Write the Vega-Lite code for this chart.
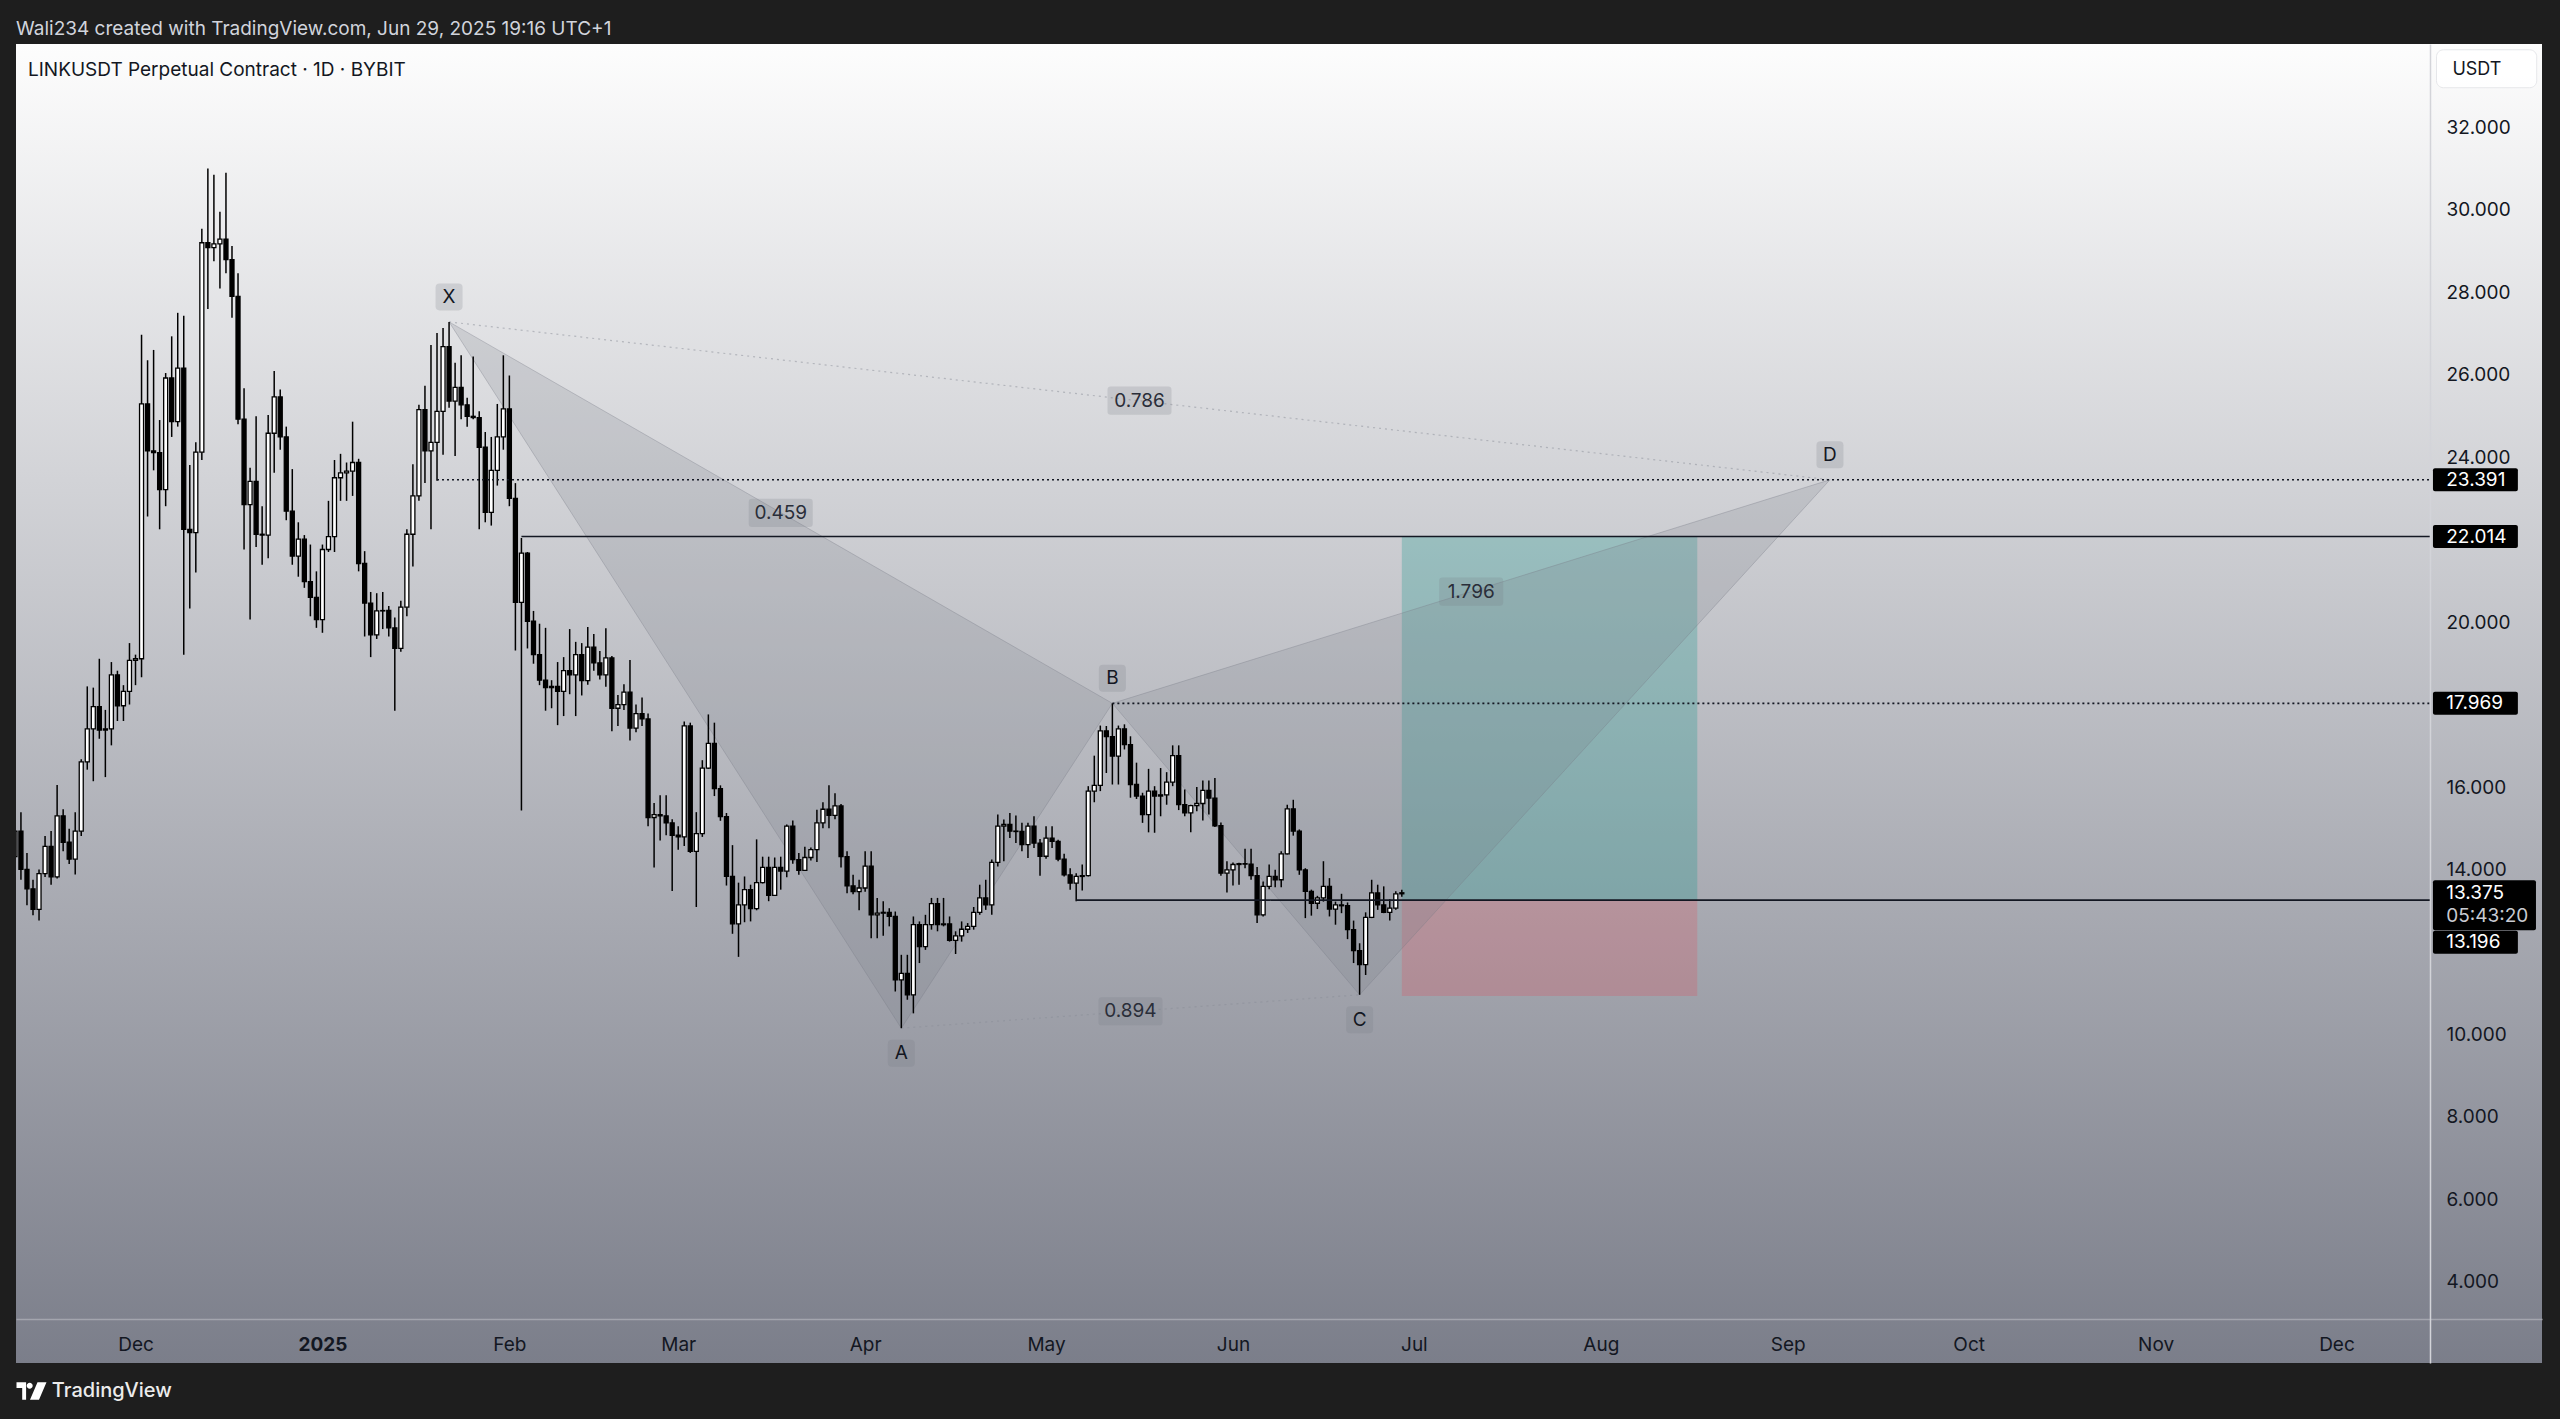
{
  "$schema": "https://vega.github.io/schema/vega-lite/v6.json",
  "width": 2526,
  "height": 1319,
  "autosize": {"type": "none"},
  "padding": {"left": 16, "top": 44, "right": 18, "bottom": 56},
  "background": "#1e1e1e",
  "config": {"view": {"stroke": null}, "font": "Inter", "text": {"font": "Inter"}, "scale": {"continuousPadding": 0}, "axis": {"grid": false}},
  "title": {"text": "Wali234 created with TradingView.com, Jun 29, 2025 19:16 UTC+1", "anchor": "start", "frame": "group", "offset": 5, "fontSize": 19, "fontWeight": "normal", "color": "#d1d4dc", "font": "Inter"},
  "datasets": {
    "k": [
      {"d":"2024-11-11","o":14.25,"h":15.30,"l":13.60,"c":14.87},
      {"d":"2024-11-12","o":14.87,"h":15.33,"l":13.69,"c":13.94},
      {"d":"2024-11-13","o":13.94,"h":14.34,"l":13.07,"c":13.47},
      {"d":"2024-11-14","o":13.47,"h":13.69,"l":12.83,"c":12.97},
      {"d":"2024-11-15","o":12.97,"h":13.94,"l":12.70,"c":13.84},
      {"d":"2024-11-16","o":13.84,"h":14.75,"l":13.76,"c":14.50},
      {"d":"2024-11-17","o":14.50,"h":14.87,"l":13.57,"c":13.76},
      {"d":"2024-11-18","o":13.76,"h":15.99,"l":13.72,"c":15.24},
      {"d":"2024-11-19","o":15.24,"h":15.40,"l":14.38,"c":14.60},
      {"d":"2024-11-20","o":14.60,"h":14.93,"l":14.07,"c":14.19},
      {"d":"2024-11-21","o":14.19,"h":15.33,"l":13.82,"c":14.87},
      {"d":"2024-11-22","o":14.87,"h":16.61,"l":14.75,"c":16.55},
      {"d":"2024-11-23","o":16.55,"h":18.38,"l":16.36,"c":17.35},
      {"d":"2024-11-24","o":17.35,"h":18.35,"l":16.08,"c":17.89},
      {"d":"2024-11-25","o":17.89,"h":19.05,"l":17.11,"c":17.32},
      {"d":"2024-11-26","o":17.32,"h":17.81,"l":16.18,"c":17.35},
      {"d":"2024-11-27","o":17.35,"h":18.97,"l":16.95,"c":18.66},
      {"d":"2024-11-28","o":18.66,"h":18.76,"l":17.54,"c":17.91},
      {"d":"2024-11-29","o":17.91,"h":18.41,"l":17.54,"c":18.26},
      {"d":"2024-11-30","o":18.26,"h":19.43,"l":17.94,"c":19.01},
      {"d":"2024-12-01","o":19.01,"h":19.15,"l":18.41,"c":19.05},
      {"d":"2024-12-02","o":19.05,"h":26.91,"l":18.60,"c":25.23},
      {"d":"2024-12-03","o":25.23,"h":26.29,"l":22.50,"c":24.09},
      {"d":"2024-12-04","o":24.09,"h":26.54,"l":23.62,"c":24.05},
      {"d":"2024-12-05","o":24.05,"h":24.84,"l":22.19,"c":23.15},
      {"d":"2024-12-06","o":23.15,"h":25.98,"l":22.75,"c":25.86},
      {"d":"2024-12-07","o":25.86,"h":26.87,"l":24.43,"c":24.80},
      {"d":"2024-12-08","o":24.80,"h":27.44,"l":24.68,"c":26.10},
      {"d":"2024-12-09","o":26.10,"h":27.37,"l":19.15,"c":22.19},
      {"d":"2024-12-10","o":22.19,"h":23.75,"l":20.27,"c":22.11},
      {"d":"2024-12-11","o":22.11,"h":24.30,"l":21.14,"c":24.06},
      {"d":"2024-12-12","o":24.06,"h":29.48,"l":23.87,"c":29.14},
      {"d":"2024-12-13","o":29.14,"h":30.94,"l":27.53,"c":29.02},
      {"d":"2024-12-14","o":29.02,"h":30.79,"l":28.69,"c":29.11},
      {"d":"2024-12-15","o":29.11,"h":29.89,"l":28.03,"c":29.23},
      {"d":"2024-12-16","o":29.23,"h":30.84,"l":28.40,"c":28.73},
      {"d":"2024-12-17","o":28.73,"h":29.06,"l":27.32,"c":27.84},
      {"d":"2024-12-18","o":27.84,"h":28.40,"l":24.74,"c":24.86},
      {"d":"2024-12-19","o":24.86,"h":25.61,"l":21.70,"c":22.79},
      {"d":"2024-12-20","o":22.79,"h":23.68,"l":20.00,"c":23.35},
      {"d":"2024-12-21","o":23.35,"h":24.93,"l":21.76,"c":22.07},
      {"d":"2024-12-22","o":22.07,"h":22.75,"l":21.33,"c":22.05},
      {"d":"2024-12-23","o":22.05,"h":24.96,"l":21.49,"c":24.52},
      {"d":"2024-12-24","o":24.52,"h":26.03,"l":23.56,"c":25.40},
      {"d":"2024-12-25","o":25.40,"h":25.58,"l":24.12,"c":24.43},
      {"d":"2024-12-26","o":24.43,"h":24.68,"l":22.41,"c":22.63},
      {"d":"2024-12-27","o":22.63,"h":23.65,"l":21.33,"c":21.54},
      {"d":"2024-12-28","o":21.54,"h":22.36,"l":21.04,"c":21.95},
      {"d":"2024-12-29","o":21.95,"h":22.05,"l":20.77,"c":20.92},
      {"d":"2024-12-30","o":20.92,"h":21.82,"l":20.08,"c":20.54},
      {"d":"2024-12-31","o":20.54,"h":21.17,"l":19.80,"c":20.00},
      {"d":"2025-01-01","o":20.00,"h":21.82,"l":19.68,"c":21.70},
      {"d":"2025-01-02","o":21.70,"h":22.88,"l":21.64,"c":22.01},
      {"d":"2025-01-03","o":22.01,"h":23.87,"l":21.64,"c":23.44},
      {"d":"2025-01-04","o":23.44,"h":24.02,"l":22.88,"c":23.56},
      {"d":"2025-01-05","o":23.56,"h":23.81,"l":22.88,"c":23.60},
      {"d":"2025-01-06","o":23.60,"h":24.80,"l":23.00,"c":23.81},
      {"d":"2025-01-07","o":23.81,"h":23.90,"l":21.17,"c":21.36},
      {"d":"2025-01-08","o":21.36,"h":21.66,"l":19.59,"c":20.40},
      {"d":"2025-01-09","o":20.40,"h":20.67,"l":19.09,"c":19.63},
      {"d":"2025-01-10","o":19.63,"h":20.64,"l":19.53,"c":20.21},
      {"d":"2025-01-11","o":20.21,"h":20.67,"l":19.77,"c":20.22},
      {"d":"2025-01-12","o":20.22,"h":20.33,"l":19.59,"c":19.80},
      {"d":"2025-01-13","o":19.80,"h":20.05,"l":17.79,"c":19.30},
      {"d":"2025-01-14","o":19.30,"h":20.46,"l":19.22,"c":20.30},
      {"d":"2025-01-15","o":20.30,"h":22.19,"l":20.08,"c":22.07},
      {"d":"2025-01-16","o":22.07,"h":23.77,"l":21.29,"c":23.00},
      {"d":"2025-01-17","o":23.00,"h":25.21,"l":22.88,"c":25.09},
      {"d":"2025-01-18","o":25.09,"h":25.67,"l":23.31,"c":24.09},
      {"d":"2025-01-19","o":24.09,"h":26.66,"l":22.19,"c":24.30},
      {"d":"2025-01-20","o":24.30,"h":26.95,"l":23.37,"c":25.05},
      {"d":"2025-01-21","o":25.05,"h":27.07,"l":24.00,"c":26.62},
      {"d":"2025-01-22","o":26.62,"h":27.22,"l":25.14,"c":25.30},
      {"d":"2025-01-23","o":25.30,"h":26.23,"l":23.97,"c":25.63},
      {"d":"2025-01-24","o":25.63,"h":26.41,"l":24.86,"c":25.21},
      {"d":"2025-01-25","o":25.21,"h":25.38,"l":24.68,"c":24.93},
      {"d":"2025-01-26","o":24.93,"h":26.38,"l":24.86,"c":24.90},
      {"d":"2025-01-27","o":24.90,"h":25.05,"l":22.19,"c":24.18},
      {"d":"2025-01-28","o":24.18,"h":24.55,"l":22.36,"c":22.60},
      {"d":"2025-01-29","o":22.60,"h":24.43,"l":22.28,"c":23.62},
      {"d":"2025-01-30","o":23.62,"h":25.23,"l":23.25,"c":24.43},
      {"d":"2025-01-31","o":24.43,"h":26.41,"l":24.12,"c":25.11},
      {"d":"2025-02-01","o":25.11,"h":25.92,"l":22.75,"c":22.94},
      {"d":"2025-02-02","o":22.94,"h":23.31,"l":19.25,"c":20.42},
      {"d":"2025-02-03","o":20.42,"h":21.98,"l":15.37,"c":21.61},
      {"d":"2025-02-04","o":21.61,"h":21.64,"l":19.30,"c":19.96},
      {"d":"2025-02-05","o":19.96,"h":20.21,"l":18.93,"c":19.15},
      {"d":"2025-02-06","o":19.15,"h":19.90,"l":18.41,"c":18.53},
      {"d":"2025-02-07","o":18.53,"h":19.80,"l":17.79,"c":18.35},
      {"d":"2025-02-08","o":18.35,"h":18.53,"l":17.85,"c":18.38},
      {"d":"2025-02-09","o":18.38,"h":18.97,"l":17.44,"c":18.26},
      {"d":"2025-02-10","o":18.26,"h":19.09,"l":17.66,"c":18.76},
      {"d":"2025-02-11","o":18.76,"h":19.77,"l":18.19,"c":18.66},
      {"d":"2025-02-12","o":18.66,"h":19.46,"l":17.66,"c":19.15},
      {"d":"2025-02-13","o":19.15,"h":19.43,"l":18.16,"c":18.52},
      {"d":"2025-02-14","o":18.52,"h":19.82,"l":18.42,"c":19.33},
      {"d":"2025-02-15","o":19.33,"h":19.65,"l":18.76,"c":18.95},
      {"d":"2025-02-16","o":18.95,"h":19.24,"l":18.55,"c":18.66},
      {"d":"2025-02-17","o":18.66,"h":19.79,"l":18.37,"c":19.07},
      {"d":"2025-02-18","o":19.07,"h":19.12,"l":17.29,"c":17.85},
      {"d":"2025-02-19","o":17.85,"h":18.17,"l":17.42,"c":17.94},
      {"d":"2025-02-20","o":17.94,"h":18.43,"l":17.81,"c":18.24},
      {"d":"2025-02-21","o":18.24,"h":19.02,"l":17.07,"c":17.37},
      {"d":"2025-02-22","o":17.37,"h":17.94,"l":17.27,"c":17.72},
      {"d":"2025-02-23","o":17.72,"h":18.11,"l":17.42,"c":17.59},
      {"d":"2025-02-24","o":17.59,"h":17.72,"l":14.99,"c":15.20},
      {"d":"2025-02-25","o":15.20,"h":15.55,"l":13.99,"c":15.27},
      {"d":"2025-02-26","o":15.27,"h":15.74,"l":14.64,"c":15.24},
      {"d":"2025-02-27","o":15.24,"h":15.74,"l":14.77,"c":15.07},
      {"d":"2025-02-28","o":15.07,"h":15.16,"l":13.42,"c":14.77},
      {"d":"2025-03-01","o":14.77,"h":14.99,"l":14.42,"c":14.73},
      {"d":"2025-03-02","o":14.73,"h":17.53,"l":14.51,"c":17.42},
      {"d":"2025-03-03","o":17.42,"h":17.50,"l":14.34,"c":14.38},
      {"d":"2025-03-04","o":14.38,"h":15.33,"l":13.03,"c":14.81},
      {"d":"2025-03-05","o":14.81,"h":16.59,"l":14.73,"c":16.40},
      {"d":"2025-03-06","o":16.40,"h":17.70,"l":16.38,"c":17.00},
      {"d":"2025-03-07","o":17.00,"h":17.50,"l":15.72,"c":15.90},
      {"d":"2025-03-08","o":15.90,"h":15.98,"l":15.12,"c":15.22},
      {"d":"2025-03-09","o":15.22,"h":15.31,"l":13.55,"c":13.77},
      {"d":"2025-03-10","o":13.77,"h":14.53,"l":12.38,"c":12.62},
      {"d":"2025-03-11","o":12.62,"h":13.62,"l":11.82,"c":13.08},
      {"d":"2025-03-12","o":13.08,"h":13.77,"l":12.66,"c":13.45},
      {"d":"2025-03-13","o":13.45,"h":13.57,"l":12.68,"c":12.99},
      {"d":"2025-03-14","o":12.99,"h":14.67,"l":12.95,"c":13.62},
      {"d":"2025-03-15","o":13.62,"h":14.25,"l":13.60,"c":13.99},
      {"d":"2025-03-16","o":13.99,"h":14.25,"l":13.17,"c":13.31},
      {"d":"2025-03-17","o":13.31,"h":14.23,"l":13.30,"c":13.99},
      {"d":"2025-03-18","o":13.99,"h":14.25,"l":13.45,"c":13.90},
      {"d":"2025-03-19","o":13.90,"h":15.03,"l":13.75,"c":14.99},
      {"d":"2025-03-20","o":14.99,"h":15.13,"l":14.08,"c":14.18},
      {"d":"2025-03-21","o":14.18,"h":14.34,"l":13.81,"c":13.92},
      {"d":"2025-03-22","o":13.92,"h":14.49,"l":13.90,"c":14.23},
      {"d":"2025-03-23","o":14.23,"h":14.47,"l":14.16,"c":14.42},
      {"d":"2025-03-24","o":14.42,"h":15.39,"l":14.12,"c":15.07},
      {"d":"2025-03-25","o":15.07,"h":15.57,"l":14.94,"c":15.40},
      {"d":"2025-03-26","o":15.40,"h":15.98,"l":14.94,"c":15.25},
      {"d":"2025-03-27","o":15.25,"h":15.79,"l":15.16,"c":15.48},
      {"d":"2025-03-28","o":15.48,"h":15.53,"l":13.99,"c":14.25},
      {"d":"2025-03-29","o":14.25,"h":14.38,"l":13.36,"c":13.54},
      {"d":"2025-03-30","o":13.54,"h":13.81,"l":13.34,"c":13.40},
      {"d":"2025-03-31","o":13.40,"h":13.69,"l":12.95,"c":13.49},
      {"d":"2025-04-01","o":13.49,"h":14.38,"l":13.40,"c":14.02},
      {"d":"2025-04-02","o":14.02,"h":14.38,"l":12.27,"c":12.84},
      {"d":"2025-04-03","o":12.84,"h":13.25,"l":12.27,"c":12.88},
      {"d":"2025-04-04","o":12.88,"h":13.17,"l":12.33,"c":12.90},
      {"d":"2025-04-05","o":12.90,"h":13.00,"l":12.56,"c":12.80},
      {"d":"2025-04-06","o":12.80,"h":12.92,"l":10.98,"c":11.26},
      {"d":"2025-04-07","o":11.26,"h":11.87,"l":10.09,"c":11.42},
      {"d":"2025-04-08","o":11.42,"h":11.87,"l":10.78,"c":10.90},
      {"d":"2025-04-09","o":10.90,"h":12.80,"l":10.45,"c":12.60},
      {"d":"2025-04-10","o":12.60,"h":12.68,"l":11.67,"c":12.07},
      {"d":"2025-04-11","o":12.07,"h":12.84,"l":11.99,"c":12.60},
      {"d":"2025-04-12","o":12.60,"h":13.25,"l":12.48,"c":13.11},
      {"d":"2025-04-13","o":13.11,"h":13.25,"l":12.44,"c":12.60},
      {"d":"2025-04-14","o":12.60,"h":13.25,"l":12.56,"c":12.62},
      {"d":"2025-04-15","o":12.62,"h":12.80,"l":12.19,"c":12.22},
      {"d":"2025-04-16","o":12.22,"h":12.44,"l":11.89,"c":12.33},
      {"d":"2025-04-17","o":12.33,"h":12.68,"l":12.19,"c":12.49},
      {"d":"2025-04-18","o":12.49,"h":12.64,"l":12.40,"c":12.56},
      {"d":"2025-04-19","o":12.56,"h":13.03,"l":12.48,"c":12.90},
      {"d":"2025-04-20","o":12.90,"h":13.57,"l":12.84,"c":13.25},
      {"d":"2025-04-21","o":13.25,"h":13.69,"l":12.96,"c":13.08},
      {"d":"2025-04-22","o":13.08,"h":14.18,"l":12.84,"c":14.11},
      {"d":"2025-04-23","o":14.11,"h":15.27,"l":14.01,"c":14.99},
      {"d":"2025-04-24","o":14.99,"h":15.15,"l":14.14,"c":15.03},
      {"d":"2025-04-25","o":15.03,"h":15.31,"l":14.70,"c":14.87},
      {"d":"2025-04-26","o":14.87,"h":15.25,"l":14.58,"c":14.86},
      {"d":"2025-04-27","o":14.86,"h":15.07,"l":14.38,"c":14.54},
      {"d":"2025-04-28","o":14.54,"h":15.07,"l":14.22,"c":14.99},
      {"d":"2025-04-29","o":14.99,"h":15.23,"l":14.46,"c":14.58},
      {"d":"2025-04-30","o":14.58,"h":14.68,"l":13.79,"c":14.26},
      {"d":"2025-05-01","o":14.26,"h":14.99,"l":14.20,"c":14.70},
      {"d":"2025-05-02","o":14.70,"h":14.99,"l":14.46,"c":14.62},
      {"d":"2025-05-03","o":14.62,"h":14.66,"l":14.14,"c":14.19},
      {"d":"2025-05-04","o":14.19,"h":14.32,"l":13.77,"c":13.81},
      {"d":"2025-05-05","o":13.81,"h":13.97,"l":13.45,"c":13.61},
      {"d":"2025-05-06","o":13.61,"h":13.85,"l":13.17,"c":13.77},
      {"d":"2025-05-07","o":13.77,"h":14.06,"l":13.43,"c":13.79},
      {"d":"2025-05-08","o":13.79,"h":15.96,"l":13.77,"c":15.84},
      {"d":"2025-05-09","o":15.84,"h":16.70,"l":15.57,"c":15.98},
      {"d":"2025-05-10","o":15.98,"h":17.43,"l":15.84,"c":17.30},
      {"d":"2025-05-11","o":17.30,"h":17.42,"l":16.28,"c":17.16},
      {"d":"2025-05-12","o":17.16,"h":17.97,"l":16.00,"c":16.69},
      {"d":"2025-05-13","o":16.69,"h":17.43,"l":16.00,"c":17.35},
      {"d":"2025-05-14","o":17.35,"h":17.46,"l":16.85,"c":16.97},
      {"d":"2025-05-15","o":16.97,"h":17.17,"l":15.68,"c":16.00},
      {"d":"2025-05-16","o":16.00,"h":16.53,"l":15.65,"c":15.72},
      {"d":"2025-05-17","o":15.72,"h":15.80,"l":15.07,"c":15.27},
      {"d":"2025-05-18","o":15.27,"h":16.38,"l":14.84,"c":15.84},
      {"d":"2025-05-19","o":15.84,"h":15.96,"l":14.83,"c":15.72},
      {"d":"2025-05-20","o":15.72,"h":16.40,"l":15.23,"c":15.75},
      {"d":"2025-05-21","o":15.75,"h":16.30,"l":15.51,"c":16.06},
      {"d":"2025-05-22","o":16.06,"h":16.95,"l":15.96,"c":16.70},
      {"d":"2025-05-23","o":16.70,"h":16.95,"l":15.38,"c":15.51},
      {"d":"2025-05-24","o":15.51,"h":15.88,"l":15.23,"c":15.31},
      {"d":"2025-05-25","o":15.31,"h":15.51,"l":14.84,"c":15.49},
      {"d":"2025-05-26","o":15.49,"h":15.94,"l":15.35,"c":15.54},
      {"d":"2025-05-27","o":15.54,"h":16.10,"l":15.13,"c":15.86},
      {"d":"2025-05-28","o":15.86,"h":16.10,"l":15.27,"c":15.67},
      {"d":"2025-05-29","o":15.67,"h":16.16,"l":14.97,"c":15.00},
      {"d":"2025-05-30","o":15.00,"h":15.08,"l":13.79,"c":13.85},
      {"d":"2025-05-31","o":13.85,"h":14.14,"l":13.38,"c":13.93},
      {"d":"2025-06-01","o":13.93,"h":14.11,"l":13.55,"c":14.06},
      {"d":"2025-06-02","o":14.06,"h":14.10,"l":13.57,"c":14.08},
      {"d":"2025-06-03","o":14.08,"h":14.44,"l":13.97,"c":14.07},
      {"d":"2025-06-04","o":14.07,"h":14.44,"l":13.69,"c":13.79},
      {"d":"2025-06-05","o":13.79,"h":14.00,"l":12.64,"c":12.84},
      {"d":"2025-06-06","o":12.84,"h":13.65,"l":12.80,"c":13.53},
      {"d":"2025-06-07","o":13.53,"h":14.06,"l":13.46,"c":13.77},
      {"d":"2025-06-08","o":13.77,"h":13.93,"l":13.51,"c":13.69},
      {"d":"2025-06-09","o":13.69,"h":14.38,"l":13.51,"c":14.32},
      {"d":"2025-06-10","o":14.32,"h":15.51,"l":14.30,"c":15.41},
      {"d":"2025-06-11","o":15.41,"h":15.63,"l":14.76,"c":14.87},
      {"d":"2025-06-12","o":14.87,"h":14.91,"l":13.81,"c":13.93},
      {"d":"2025-06-13","o":13.93,"h":13.97,"l":12.76,"c":13.41},
      {"d":"2025-06-14","o":13.41,"h":13.45,"l":12.82,"c":13.12},
      {"d":"2025-06-15","o":13.12,"h":13.30,"l":12.98,"c":13.25},
      {"d":"2025-06-16","o":13.25,"h":14.14,"l":13.16,"c":13.53},
      {"d":"2025-06-17","o":13.53,"h":13.73,"l":12.80,"c":12.98},
      {"d":"2025-06-18","o":12.98,"h":13.16,"l":12.60,"c":13.08},
      {"d":"2025-06-19","o":13.08,"h":13.35,"l":12.88,"c":13.06},
      {"d":"2025-06-20","o":13.06,"h":13.14,"l":12.25,"c":12.48},
      {"d":"2025-06-21","o":12.48,"h":12.70,"l":11.67,"c":11.97},
      {"d":"2025-06-22","o":11.97,"h":12.15,"l":10.90,"c":11.63},
      {"d":"2025-06-23","o":11.63,"h":12.90,"l":11.38,"c":12.78},
      {"d":"2025-06-24","o":12.78,"h":13.69,"l":12.76,"c":13.37},
      {"d":"2025-06-25","o":13.37,"h":13.57,"l":12.96,"c":13.08},
      {"d":"2025-06-26","o":13.08,"h":13.53,"l":12.88,"c":12.90},
      {"d":"2025-06-27","o":12.90,"h":13.22,"l":12.70,"c":13.00},
      {"d":"2025-06-28","o":13.00,"h":13.41,"l":12.96,"c":13.35},
      {"d":"2025-06-29","o":13.35,"h":13.45,"l":13.28,"c":13.375}
    ],
    "lv": [
      {"p":23.391,"s":"2025-01-20","t":"dot"},
      {"p":22.014,"s":"2025-02-03","t":"solid"},
      {"p":17.969,"s":"2025-05-12","t":"dot"},
      {"p":13.196,"s":"2025-05-06","t":"solid"}
    ],
    "pts": [
      {"n":"X","d":"2025-01-22","p":27.22},
      {"n":"A","d":"2025-04-07","p":10.09},
      {"n":"B","d":"2025-05-12","p":17.969},
      {"n":"C","d":"2025-06-22","p":10.90},
      {"n":"D","d":"2025-09-08","p":23.391}
    ],
    "tri": [
      {"g":"XAB","i":0,"d":"2025-01-22","p":27.22},
      {"g":"XAB","i":1,"d":"2025-04-07","p":10.09},
      {"g":"XAB","i":2,"d":"2025-05-12","p":17.969},
      {"g":"BCD","i":0,"d":"2025-05-12","p":17.969},
      {"g":"BCD","i":1,"d":"2025-06-22","p":10.90},
      {"g":"BCD","i":2,"d":"2025-09-08","p":23.391}
    ],
    "diag": [
      {"d1":"2025-01-22","p1":27.22,"d2":"2025-09-08","p2":23.391},
      {"d1":"2025-04-07","p1":10.09,"d2":"2025-06-22","p2":10.90}
    ],
    "ratios": [
      {"t":"0.786","d":"2025-05-16T12:00:00Z","p":25.31},
      {"t":"0.459","d":"2025-03-18T00:00:00Z","p":22.59},
      {"t":"0.894","d":"2025-05-15T00:00:00Z","p":10.50},
      {"t":"1.796","d":"2025-07-10T12:00:00Z","p":20.68}
    ],
    "boxes": [
      {"k":"target","s":"2025-06-29","e":"2025-08-17","top":22.014,"bot":13.196},
      {"k":"stop","s":"2025-06-29","e":"2025-08-17","top":13.196,"bot":10.87}
    ],
    "tags": [{"v":23.391},{"v":22.014},{"v":17.969}]
  },
  "layer": [
    {
      "data": {"values": [{}]},
      "mark": {"type": "rect", "fill": {"gradient": "linear", "x1": 0, "y1": 0, "x2": 0, "y2": 1, "stops": [{"offset": 0, "color": "#fdfdfd"}, {"offset": 1, "color": "#7b7e8a"}]}},
      "encoding": {
        "x": {"datum": {"year": 2024, "month": 11, "date": 11, "hours": 4, "minutes": 20, "utc": true}, "type": "temporal"},
        "x2": {"datum": {"year": 2026, "month": 1, "date": 4, "hours": 2, "utc": true}},
        "y": {"datum": 1.97, "type": "quantitative"},
        "y2": {"datum": 33.96}
      }
    },
    {
      "data": {"name": "boxes"},
      "mark": {"type": "rect"},
      "encoding": {
        "x": {"field": "s", "type": "temporal"},
        "x2": {"field": "e"},
        "y": {"field": "top", "type": "quantitative"},
        "y2": {"field": "bot"},
        "color": {"field": "k", "type": "nominal", "scale": {"domain": ["target", "stop"], "range": ["rgba(20,150,140,0.28)", "rgba(242,54,69,0.2)"]}, "legend": null}
      }
    },
    {
      "data": {"name": "tri"},
      "mark": {"type": "line", "interpolate": "linear-closed", "fill": "#787b86", "fillOpacity": 0.2, "stroke": "#787b86", "strokeOpacity": 0.35, "strokeWidth": 1},
      "encoding": {
        "x": {"field": "d", "type": "temporal"},
        "y": {"field": "p", "type": "quantitative"},
        "detail": {"field": "g"},
        "order": {"field": "i", "type": "quantitative"}
      }
    },
    {
      "data": {"name": "diag"},
      "mark": {"type": "rule", "stroke": "#8a8d97", "strokeOpacity": 0.5, "strokeWidth": 1.2, "strokeDash": [2, 4]},
      "encoding": {
        "x": {"field": "d1", "type": "temporal"},
        "x2": {"field": "d2"},
        "y": {"field": "p1", "type": "quantitative"},
        "y2": {"field": "p2"}
      }
    },
    {
      "data": {"name": "k"},
      "mark": {"type": "rule", "color": "#000000", "strokeWidth": 1.5, "clip": true},
      "encoding": {
        "x": {"field": "d", "type": "temporal",
          "scale": {"type": "utc", "padding": 0, "domain": [{"year": 2024, "month": 11, "date": 11, "hours": 4, "minutes": 20, "utc": true}, {"year": 2026, "month": 1, "date": 4, "hours": 2, "utc": true}]},
          "axis": {"orient": "bottom", "offset": -44, "zindex": 2, "title": null, "grid": false, "ticks": false, "tickSize": 0,
            "values": [
              {"year": 2024, "month": 12, "date": 1, "utc": true},
              {"year": 2025, "month": 1, "date": 1, "utc": true},
              {"year": 2025, "month": 2, "date": 1, "utc": true},
              {"year": 2025, "month": 3, "date": 1, "utc": true},
              {"year": 2025, "month": 4, "date": 1, "utc": true},
              {"year": 2025, "month": 5, "date": 1, "utc": true},
              {"year": 2025, "month": 6, "date": 1, "utc": true},
              {"year": 2025, "month": 7, "date": 1, "utc": true},
              {"year": 2025, "month": 8, "date": 1, "utc": true},
              {"year": 2025, "month": 9, "date": 1, "utc": true},
              {"year": 2025, "month": 10, "date": 1, "utc": true},
              {"year": 2025, "month": 11, "date": 1, "utc": true},
              {"year": 2025, "month": 12, "date": 1, "utc": true}
            ],
            "labelExpr": "utcmonth(datum.value) == 0 ? utcFormat(datum.value, '%Y') : utcFormat(datum.value, '%b')",
            "labelFontWeight": {"condition": {"test": "utcmonth(datum.value) == 0", "value": "bold"}, "value": "normal"},
            "labelFont": "Inter", "labelFontSize": 19, "labelColor": "#131722", "labelPadding": 25, "labelBaseline": "middle",
            "labelFlush": false, "labelOverlap": false, "domainColor": "#a3a5ae", "domainWidth": 1.5}
        },
        "y": {"field": "l", "type": "quantitative",
          "scale": {"domain": [1.97, 33.96], "nice": false, "zero": false, "padding": 0},
          "axis": {"orient": "right", "offset": -112, "zindex": 2, "title": null, "grid": false, "ticks": false, "tickSize": 0,
            "values": [4, 6, 8, 10, 14, 16, 20, 24, 26, 28, 30, 32], "format": ".3f",
            "labelAlign": "left", "labelBaseline": "middle", "labelPadding": 16, "labelOffset": 2.5, "labelFont": "Inter", "labelFontSize": 19, "labelColor": "#131722",
            "labelFlush": false, "labelOverlap": false, "domainColor": "#d3d4d9", "domainWidth": 1.5}
        },
        "y2": {"field": "h"}
      }
    },
    {
      "data": {"name": "k"},
      "mark": {"type": "bar", "size": 4, "stroke": "#000000", "strokeWidth": 1.3, "clip": true},
      "encoding": {
        "x": {"field": "d", "type": "temporal"},
        "y": {"field": "o", "type": "quantitative"},
        "y2": {"field": "c"},
        "fill": {"condition": {"test": "datum.c >= datum.o", "value": "#ffffff"}, "value": "#000000"}
      }
    },
    {
      "data": {"name": "lv"},
      "mark": {"type": "rule", "color": "#131722", "strokeWidth": 1.6},
      "encoding": {
        "x": {"field": "s", "type": "temporal"},
        "x2": {"datum": {"year": 2025, "month": 12, "date": 16, "hours": 12, "utc": true}},
        "y": {"field": "p", "type": "quantitative"},
        "strokeDash": {"field": "t", "type": "nominal", "scale": {"domain": ["dot", "solid"], "range": [[2, 3], [1, 0]]}, "legend": null}
      }
    },
    {
      "data": {"name": "pts"},
      "transform": [{"filter": "indexof(['X','B','D'], datum.n) >= 0"}],
      "mark": {"type": "point", "filled": true, "fill": "#787b86", "opacity": 0.22, "strokeWidth": 0, "size": 729, "yOffset": -25,
        "shape": "M-0.7,-1 L0.7,-1 Q1,-1 1,-0.7 L1,0.7 Q1,1 0.7,1 L-0.7,1 Q-1,1 -1,0.7 L-1,-0.7 Q-1,-1 -0.7,-1 Z"},
      "encoding": {"x": {"field": "d", "type": "temporal"}, "y": {"field": "p", "type": "quantitative"}}
    },
    {
      "data": {"name": "pts"},
      "transform": [{"filter": "indexof(['A','C'], datum.n) >= 0"}],
      "mark": {"type": "point", "filled": true, "fill": "#787b86", "opacity": 0.22, "strokeWidth": 0, "size": 729, "yOffset": 25,
        "shape": "M-0.7,-1 L0.7,-1 Q1,-1 1,-0.7 L1,0.7 Q1,1 0.7,1 L-0.7,1 Q-1,1 -1,0.7 L-1,-0.7 Q-1,-1 -0.7,-1 Z"},
      "encoding": {"x": {"field": "d", "type": "temporal"}, "y": {"field": "p", "type": "quantitative"}}
    },
    {
      "data": {"name": "pts"},
      "transform": [{"filter": "indexof(['X','B','D'], datum.n) >= 0"}],
      "mark": {"type": "text", "fontSize": 19, "color": "#131722", "dy": -25, "baseline": "middle", "align": "center"},
      "encoding": {"x": {"field": "d", "type": "temporal"}, "y": {"field": "p", "type": "quantitative"}, "text": {"field": "n"}}
    },
    {
      "data": {"name": "pts"},
      "transform": [{"filter": "indexof(['A','C'], datum.n) >= 0"}],
      "mark": {"type": "text", "fontSize": 19, "color": "#131722", "dy": 25, "baseline": "middle", "align": "center"},
      "encoding": {"x": {"field": "d", "type": "temporal"}, "y": {"field": "p", "type": "quantitative"}, "text": {"field": "n"}}
    },
    {
      "data": {"name": "ratios"},
      "mark": {"type": "point", "filled": true, "fill": "#787b86", "opacity": 0.22, "strokeWidth": 0, "size": 4096,
        "shape": "M-0.9,-0.44 L0.9,-0.44 Q1,-0.44 1,-0.34 L1,0.34 Q1,0.44 0.9,0.44 L-0.9,0.44 Q-1,0.44 -1,0.34 L-1,-0.34 Q-1,-0.44 -0.9,-0.44 Z"},
      "encoding": {"x": {"field": "d", "type": "temporal"}, "y": {"field": "p", "type": "quantitative"}}
    },
    {
      "data": {"name": "ratios"},
      "mark": {"type": "text", "fontSize": 19, "color": "#2a2e39", "baseline": "middle", "align": "center"},
      "encoding": {"x": {"field": "d", "type": "temporal"}, "y": {"field": "p", "type": "quantitative"}, "text": {"field": "t"}}
    },
    {
      "data": {"name": "tags"},
      "mark": {"type": "bar", "orient": "horizontal", "size": 23, "color": "#000000", "cornerRadius": 2},
      "encoding": {
        "x": {"datum": {"year": 2025, "month": 12, "date": 17, "utc": true}, "type": "temporal"},
        "x2": {"datum": {"year": 2025, "month": 12, "date": 31, "hours": 2, "utc": true}},
        "y": {"field": "v", "type": "quantitative"}
      }
    },
    {
      "data": {"name": "tags"},
      "mark": {"type": "text", "fontSize": 19, "color": "#ffffff", "align": "left", "baseline": "middle"},
      "encoding": {
        "x": {"datum": {"year": 2025, "month": 12, "date": 19, "hours": 5, "utc": true}, "type": "temporal"},
        "y": {"field": "v", "type": "quantitative"},
        "text": {"field": "v", "format": ".3f"}
      }
    },
    {
      "data": {"values": [{"v": 13.375, "t": "13.375", "cd": "05:43:20"}]},
      "layer": [
        {
          "mark": {"type": "bar", "orient": "horizontal", "size": 50, "yOffset": 12.5, "color": "#000000", "cornerRadius": 2},
          "encoding": {
            "x": {"datum": {"year": 2025, "month": 12, "date": 17, "utc": true}, "type": "temporal"},
            "x2": {"datum": {"year": 2026, "month": 1, "date": 3, "hours": 2, "utc": true}},
            "y": {"field": "v", "type": "quantitative"}
          }
        },
        {
          "mark": {"type": "text", "fontSize": 19, "color": "#ffffff", "align": "left", "baseline": "middle"},
          "encoding": {
            "x": {"datum": {"year": 2025, "month": 12, "date": 19, "hours": 5, "utc": true}, "type": "temporal"},
            "y": {"field": "v", "type": "quantitative"},
            "text": {"field": "t"}
          }
        },
        {
          "mark": {"type": "text", "fontSize": 19, "color": "#c9cbd2", "align": "left", "baseline": "middle", "dy": 23},
          "encoding": {
            "x": {"datum": {"year": 2025, "month": 12, "date": 19, "hours": 5, "utc": true}, "type": "temporal"},
            "y": {"field": "v", "type": "quantitative"},
            "text": {"field": "cd"}
          }
        }
      ]
    },
    {
      "data": {"values": [{"v": 13.196, "t": "13.196"}]},
      "layer": [
        {
          "mark": {"type": "bar", "orient": "horizontal", "size": 23, "yOffset": 42, "color": "#000000", "cornerRadius": 2},
          "encoding": {
            "x": {"datum": {"year": 2025, "month": 12, "date": 17, "utc": true}, "type": "temporal"},
            "x2": {"datum": {"year": 2025, "month": 12, "date": 31, "hours": 2, "utc": true}},
            "y": {"field": "v", "type": "quantitative"}
          }
        },
        {
          "mark": {"type": "text", "fontSize": 19, "color": "#ffffff", "align": "left", "baseline": "middle", "dy": 42},
          "encoding": {
            "x": {"datum": {"year": 2025, "month": 12, "date": 19, "hours": 5, "utc": true}, "type": "temporal"},
            "y": {"field": "v", "type": "quantitative"},
            "text": {"field": "t"}
          }
        }
      ]
    },
    {
      "data": {"values": [{"t": "USDT"}]},
      "layer": [
        {
          "mark": {"type": "rect", "fill": "#ffffff", "fillOpacity": 0.85, "stroke": "#e6e7ea", "strokeWidth": 1, "cornerRadius": 7},
          "encoding": {
            "x": {"datum": {"year": 2025, "month": 12, "date": 17, "hours": 14, "utc": true}, "type": "temporal"},
            "x2": {"datum": {"year": 2026, "month": 1, "date": 3, "hours": 5, "utc": true}},
            "y": {"datum": 33.82, "type": "quantitative"},
            "y2": {"datum": 32.9}
          }
        },
        {
          "mark": {"type": "text", "fontSize": 18, "color": "#131722", "align": "center", "baseline": "middle"},
          "encoding": {
            "x": {"datum": {"year": 2025, "month": 12, "date": 24, "hours": 7, "utc": true}, "type": "temporal"},
            "y": {"datum": 33.33, "type": "quantitative"},
            "text": {"field": "t"}
          }
        }
      ]
    },
    {
      "data": {"values": [{"t": "LINKUSDT Perpetual Contract · 1D · BYBIT"}]},
      "mark": {"type": "text", "fontSize": 19, "color": "#131722", "align": "left", "baseline": "middle"},
      "encoding": {
        "x": {"datum": {"year": 2024, "month": 11, "date": 13, "hours": 4, "utc": true}, "type": "temporal"},
        "y": {"datum": 33.33, "type": "quantitative"},
        "text": {"field": "t"}
      }
    },
    {
      "data": {"values": [{"t": "TradingView"}]},
      "layer": [
        {
          "mark": {"type": "point", "filled": true, "fill": "#ffffff", "opacity": 1, "strokeWidth": 0, "size": 900,
            "shape": "M-1,-0.58 L-0.36,-0.58 L-0.36,0.58 L-0.62,0.58 L-0.62,-0.2 L-1,-0.2 Z M-0.32,-0.36 A0.2,0.2 0 1,0 0.08,-0.36 A0.2,0.2 0 1,0 -0.32,-0.36 Z M0.4,-0.58 L1,-0.58 L0.5,0.58 L-0.1,0.58 Z"},
          "encoding": {
            "x": {"datum": {"year": 2024, "month": 11, "date": 13, "hours": 18, "utc": true}, "type": "temporal"},
            "y": {"datum": 1.29, "type": "quantitative"}
          }
        },
        {
          "mark": {"type": "text", "fontSize": 20, "fontWeight": 500, "color": "#ececec", "align": "left", "baseline": "middle"},
          "encoding": {
            "x": {"datum": {"year": 2024, "month": 11, "date": 17, "hours": 3, "utc": true}, "type": "temporal"},
            "y": {"datum": 1.29, "type": "quantitative"},
            "text": {"field": "t"}
          }
        }
      ]
    }
  ]
}
